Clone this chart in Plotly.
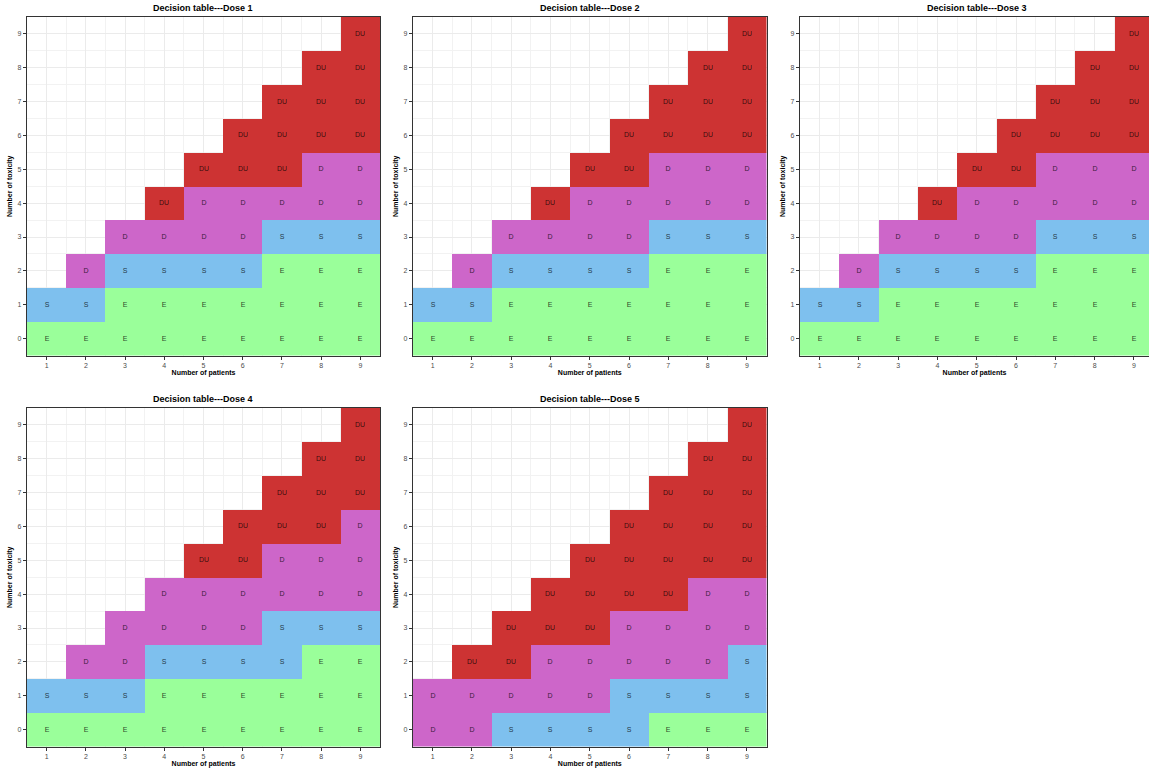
import plotly.graph_objects as go

# Categories and axes
patients = [1, 2, 3, 4, 5, 6, 7, 8, 9]
toxicity = [0, 1, 2, 3, 4, 5, 6, 7, 8, 9]
decisions = ["E", "S", "D", "DU"]
decision_colors = ["#9AFF9A", "#7EC0EE", "#CD66C9", "#CD3333"]

# Decision tables: each row is a toxicity count (0..9), each column a patient count (1..9)
dose1 = [
    ["E", "E", "E", "E", "E", "E", "E", "E", "E"],
    ["S", "S", "E", "E", "E", "E", "E", "E", "E"],
    ["", "D", "S", "S", "S", "S", "E", "E", "E"],
    ["", "", "D", "D", "D", "D", "S", "S", "S"],
    ["", "", "", "DU", "D", "D", "D", "D", "D"],
    ["", "", "", "", "DU", "DU", "DU", "D", "D"],
    ["", "", "", "", "", "DU", "DU", "DU", "DU"],
    ["", "", "", "", "", "", "DU", "DU", "DU"],
    ["", "", "", "", "", "", "", "DU", "DU"],
    ["", "", "", "", "", "", "", "", "DU"],
]
dose2 = [
    ["E", "E", "E", "E", "E", "E", "E", "E", "E"],
    ["S", "S", "E", "E", "E", "E", "E", "E", "E"],
    ["", "D", "S", "S", "S", "S", "E", "E", "E"],
    ["", "", "D", "D", "D", "D", "S", "S", "S"],
    ["", "", "", "DU", "D", "D", "D", "D", "D"],
    ["", "", "", "", "DU", "DU", "D", "D", "D"],
    ["", "", "", "", "", "DU", "DU", "DU", "DU"],
    ["", "", "", "", "", "", "DU", "DU", "DU"],
    ["", "", "", "", "", "", "", "DU", "DU"],
    ["", "", "", "", "", "", "", "", "DU"],
]
dose3 = [
    ["E", "E", "E", "E", "E", "E", "E", "E", "E"],
    ["S", "S", "E", "E", "E", "E", "E", "E", "E"],
    ["", "D", "S", "S", "S", "S", "E", "E", "E"],
    ["", "", "D", "D", "D", "D", "S", "S", "S"],
    ["", "", "", "DU", "D", "D", "D", "D", "D"],
    ["", "", "", "", "DU", "DU", "D", "D", "D"],
    ["", "", "", "", "", "DU", "DU", "DU", "DU"],
    ["", "", "", "", "", "", "DU", "DU", "DU"],
    ["", "", "", "", "", "", "", "DU", "DU"],
    ["", "", "", "", "", "", "", "", "DU"],
]
dose4 = [
    ["E", "E", "E", "E", "E", "E", "E", "E", "E"],
    ["S", "S", "S", "E", "E", "E", "E", "E", "E"],
    ["", "D", "D", "S", "S", "S", "S", "E", "E"],
    ["", "", "D", "D", "D", "D", "S", "S", "S"],
    ["", "", "", "D", "D", "D", "D", "D", "D"],
    ["", "", "", "", "DU", "DU", "D", "D", "D"],
    ["", "", "", "", "", "DU", "DU", "DU", "D"],
    ["", "", "", "", "", "", "DU", "DU", "DU"],
    ["", "", "", "", "", "", "", "DU", "DU"],
    ["", "", "", "", "", "", "", "", "DU"],
]
dose5 = [
    ["D", "D", "S", "S", "S", "S", "E", "E", "E"],
    ["D", "D", "D", "D", "D", "S", "S", "S", "S"],
    ["", "DU", "DU", "D", "D", "D", "D", "D", "S"],
    ["", "", "DU", "DU", "DU", "D", "D", "D", "D"],
    ["", "", "", "DU", "DU", "DU", "DU", "D", "D"],
    ["", "", "", "", "DU", "DU", "DU", "DU", "DU"],
    ["", "", "", "", "", "DU", "DU", "DU", "DU"],
    ["", "", "", "", "", "", "DU", "DU", "DU"],
    ["", "", "", "", "", "", "", "DU", "DU"],
    ["", "", "", "", "", "", "", "", "DU"],
]
titles = ["Decision table---Dose 1", "Decision table---Dose 2", "Decision table---Dose 3",
          "Decision table---Dose 4", "Decision table---Dose 5"]
tables = [dose1, dose2, dose3, dose4, dose5]

W, H = 1149, 770
# panel pixel boxes (left, right, top, bottom)
boxes = [
    (27, 380, 17, 355.5),
    (413, 766.5, 17, 355.5),
    (800, 1149, 17, 355.5),
    (27, 380, 408, 746.5),
    (413, 766.5, 408, 746.5),
]
FULL_RIGHT = 1153.5  # where panel 3 would end if the image were not cut

n = len(decisions)
colorscale = []
for i, c in enumerate(decision_colors):
    colorscale.append([i / n, c])
    colorscale.append([(i + 1) / n, c])

fig = go.Figure()
annotations = []
font_family = "Liberation Sans, Arial, sans-serif"

for k, (tbl, title, box) in enumerate(zip(tables, titles, boxes)):
    idx = k + 1
    xa = "x" if idx == 1 else f"x{idx}"
    ya = "y" if idx == 1 else f"y{idx}"
    z = [[(decisions.index(v) if v else None) for v in row] for row in tbl]
    fig.add_trace(go.Heatmap(
        x=patients, y=toxicity, z=z, text=tbl,
        texttemplate="%{text}",
        textfont=dict(size=7, color="rgba(0,0,0,0.75)", family=font_family),
        colorscale=colorscale, zmin=-0.5, zmax=3.5, showscale=False,
        xgap=0, ygap=0, hoverongaps=False,
        xaxis=xa, yaxis=ya,
    ))
    l, r, t, b = box
    xdom = [l / W, r / W]
    ydom = [1 - b / H, 1 - t / H]
    full_r = FULL_RIGHT if r >= W else r
    xmax = 0.5 + 9 * (r - l) / (full_r - l)
    axis_common = dict(
        showgrid=True, gridcolor="#EBEBEB", gridwidth=1,
        showline=True, linecolor="#333333", linewidth=1.2, mirror=True,
        ticks="outside", ticklen=3, tickcolor="#333333", tickwidth=1,
        tickfont=dict(size=7, color="#4D4D4D", family=font_family),
        zeroline=False, dtick=1,
        minor=dict(dtick=0.5, showgrid=True, gridcolor="#F2F2F2", gridwidth=0.6, ticks=""),
    )
    fig.layout[f"xaxis{'' if idx == 1 else idx}"] = dict(
        domain=xdom, range=[0.5, xmax], anchor=ya, tick0=0,
        title=dict(text="<b>Number of patients</b>", standoff=2,
                   font=dict(size=7, color="#000000", family=font_family)),
        **axis_common,
    )
    fig.layout[f"yaxis{'' if idx == 1 else idx}"] = dict(
        domain=ydom, range=[-0.5, 9.5], anchor=xa, tick0=0,
        title=dict(text="<b>Number of toxicity</b>", standoff=4,
                   font=dict(size=7, color="#000000", family=font_family)),
        **axis_common,
    )
    annotations.append(dict(
        text=f"<b>{title}</b>", xref="paper", yref="paper",
        x=(l + full_r) / 2 / W,
        y=1 - (t - 9) / H, xanchor="center", yanchor="middle", showarrow=False,
        font=dict(size=9, color="#000000", family=font_family),
    ))

fig.update_layout(
    width=W, height=H, margin=dict(l=0, r=0, t=0, b=0),
    paper_bgcolor="white", plot_bgcolor="white",
    annotations=annotations, showlegend=False,
)
fig.write_html(
    "out.html",
    config={"displayModeBar": False},
    post_script="document.body.style.margin='0';document.body.style.overflow='hidden';",
)
